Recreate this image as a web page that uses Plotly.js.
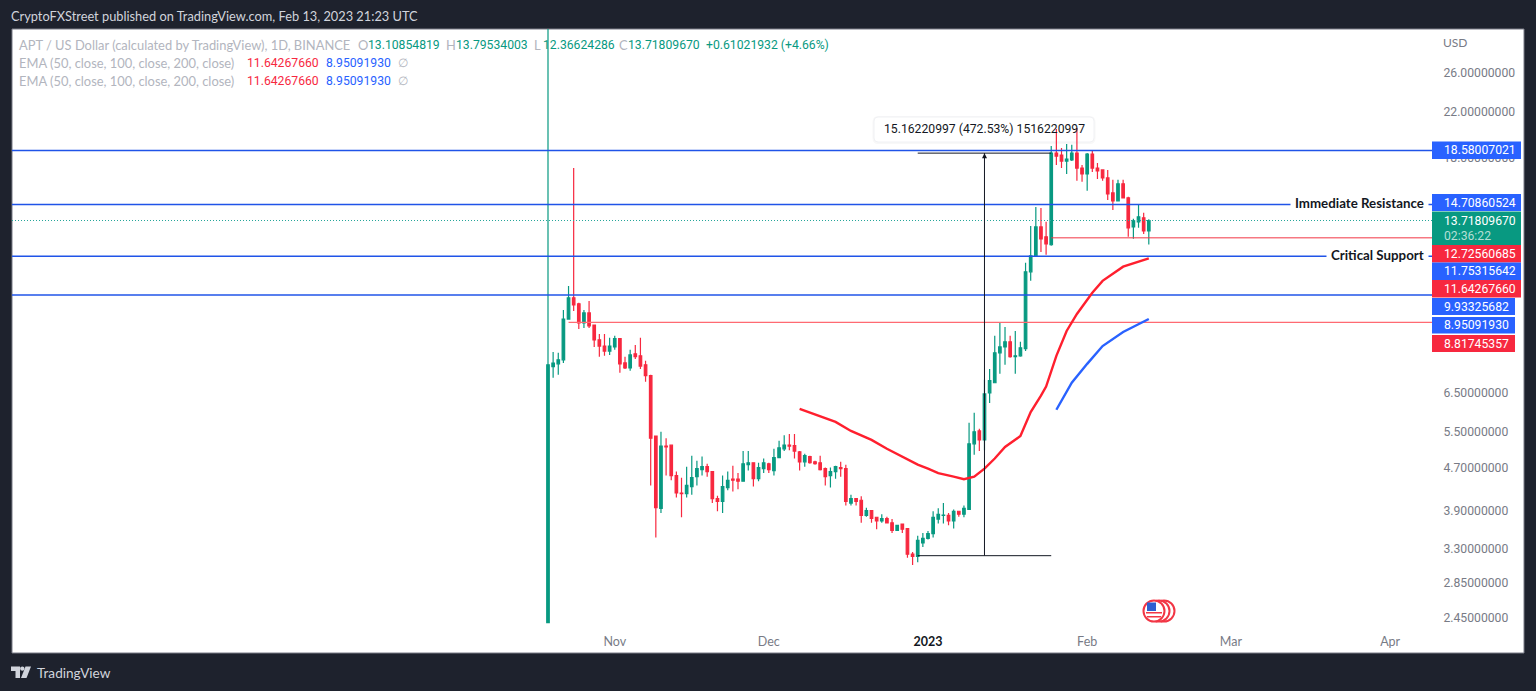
<!DOCTYPE html>
<html><head><meta charset="utf-8">
<script src="https://cdn.plot.ly/plotly-3.0.1.min.js"></script>
<style>html,body{margin:0;padding:0;background:#1e222d;overflow:hidden}#chart{width:1536px;height:691px}</style>
</head><body><div id="chart"></div>
<script>
const firstDay = '2022-10-19';
const opens = [
2.40,7.28,7.37,7.50,8.95,9.81,9.56,8.80,9.19,8.72,
8.18,7.96,7.79,7.93,8.22,7.40,7.24,7.70,7.63,7.34,
7.00,5.39,3.94,5.16,5.18,4.54,4.21,4.20,4.33,4.52,
4.66,4.72,4.62,4.11,4.06,4.31,4.47,4.47,4.43,4.76,
4.80,4.48,4.68,4.78,4.64,4.91,5.10,5.18,5.17,5.03,
4.82,4.93,4.82,4.80,4.68,4.54,4.62,4.70,4.68,4.03,
4.11,4.08,3.82,3.90,3.79,3.73,3.77,3.70,3.58,3.68,
3.61,3.23,3.20,3.39,3.46,3.53,3.76,3.82,3.82,3.73,
3.89,3.84,3.92,5.21,5.51,5.30,6.50,6.79,7.73,7.93,
8.11,7.60,7.63,7.87,10.98,11.77,13.34,12.78,12.35,18.38,
18.22,17.75,17.83,18.38,17.22,16.78,18.30,17.22,17.08,16.50,
15.46,14.94,16.08,15.13,13.34,13.64,13.88,13.10854819];
const highs = [
60,7.76,7.73,9.31,10.33,17.22,9.60,9.31,9.68,8.72,
8.39,8.39,8.25,8.32,8.22,7.60,7.83,8.00,8.25,7.47,
7.03,5.39,5.49,5.34,5.18,4.62,4.50,4.72,4.95,4.84,
4.93,4.78,4.62,4.16,4.54,4.62,4.74,4.59,5.05,5.05,
4.80,4.80,4.89,4.80,5.10,5.28,5.41,5.44,5.44,5.05,
4.99,4.95,4.84,4.95,4.70,4.70,4.74,4.82,4.76,4.18,
4.11,4.15,3.95,3.90,3.80,3.84,3.80,3.76,3.67,3.69,
3.61,3.26,3.50,3.54,3.57,3.89,3.94,4.03,3.86,3.92,
3.90,3.99,5.71,5.96,5.56,6.88,7.21,8.32,8.84,8.65,
8.32,8.50,8.11,11.42,13.40,14.55,14.49,13.64,18.95,20.40,
18.79,19.12,19.04,20.49,17.45,18.38,18.55,17.60,17.08,17.08,
16.36,16.36,16.36,15.20,13.82,14.74,14.18,13.79534003];
const lows = [
2.40,6.94,7.03,7.40,8.92,9.27,8.57,8.61,8.61,7.93,
7.60,7.63,7.66,7.83,7.09,7.21,7.15,7.53,7.21,6.82,
4.35,3.47,3.86,4.54,4.45,4.13,3.79,4.13,4.18,4.35,
4.54,4.52,4.03,3.89,3.86,4.26,4.24,4.28,4.43,4.64,
4.33,4.43,4.59,4.59,4.54,4.91,5.05,5.07,4.89,4.64,
4.72,4.78,4.76,4.64,4.35,4.31,4.48,4.52,3.99,3.99,
3.99,3.70,3.80,3.70,3.60,3.70,3.69,3.54,3.57,3.54,
3.18,3.08,3.12,3.33,3.44,3.47,3.69,3.69,3.66,3.61,
3.80,3.79,3.92,4.97,5.05,5.07,6.22,6.79,7.06,7.34,
7.57,7.06,7.60,7.79,10.56,11.77,11.97,11.82,12.30,17.45,
17.22,16.78,17.75,16.29,16.22,15.60,16.93,16.43,16.29,15.00,
14.36,14.94,15.13,12.78,12.67,13.29,12.94,12.36624286];
const closes = [
7.34,7.39,7.50,8.95,9.81,9.52,8.80,9.19,8.69,8.18,
7.96,7.79,7.96,8.22,7.37,7.24,7.66,7.60,7.30,7.00,
5.34,3.95,5.16,5.14,4.54,4.21,4.20,4.35,4.50,4.68,
4.72,4.62,4.11,4.06,4.33,4.45,4.45,4.43,4.78,4.80,
4.48,4.70,4.80,4.66,4.91,5.12,5.18,5.16,5.05,4.82,
4.95,4.80,4.78,4.66,4.52,4.62,4.72,4.68,4.06,4.11,
4.06,3.82,3.90,3.77,3.73,3.77,3.70,3.58,3.66,3.60,
3.23,3.20,3.43,3.46,3.53,3.79,3.84,3.825,3.73,3.89,
3.84,3.94,5.21,5.49,5.30,6.47,6.85,7.73,7.93,8.11,
7.60,7.63,7.90,10.98,11.77,13.34,12.67,12.40,18.38,18.14,
17.75,17.91,18.38,17.22,16.78,18.30,17.22,17.00,16.50,15.40,
14.94,16.08,15.13,13.29,13.70,13.94,13.11,13.7180967];

const emaFastDays = [49,52,54,56,59,63,66,69,72,74,76,79,81,83,85,87,89,92,94,96,97,99,101,103,105,106,108,112,117];
const emaFast = [6.06,5.91,5.81,5.73,5.51,5.30,5.10,4.93,4.76,4.68,4.59,4.52,4.47,4.52,4.68,4.89,5.14,5.39,5.98,6.42,6.68,7.63,8.50,9.15,9.73,10.03,10.56,11.23,11.64267660];
const emaSlowDays = [99,102,105,108,112,117];
const emaSlow = [6.04,6.79,7.37,7.96,8.46,8.95091930];

const blueLevels = [18.58007021,14.70860524,11.75315642,9.93325682];
const redLevelLow = 8.81745357, redLevelLowDay = 4;
const redLevelHigh = 12.72560685, redLevelHighDay = 98;
const lastPrice = 13.71809670;
const measureLow = 3.2087, measureHigh = 18.3709;
const measureDays = [72,85,98];

const yTicks = [26,22,18,6.5,5.5,4.7,3.9,3.3,2.85,2.45];
const yTickLabels = ['26.00000000','22.00000000','18.00000000','6.50000000','5.50000000','4.70000000','3.90000000','3.30000000','2.85000000','2.45000000'];
const xTicks = ['2022-11-01','2022-12-01','2023-01-01','2023-02-01','2023-03-01','2023-04-01'];
const xTickLabels = ['Nov','Dec','<span style="color:#131722"><b>2023</b></span>','Feb','Mar','Apr'];

const FONT = 'Lato, "Noto Sans", sans-serif';
const NUMFONT = 'Roboto, Lato, sans-serif';
const GREEN='#089981', RED='#f7283f', BLUE='#2962ff', LEVEL='#2054e8', GREY='#b2b5be';
const TXT=12.9, NUM=12.2;
const L=12, R=1432, T=29, B=626;
const px = x => (x-L)/(R-L), py = y => (B-y)/(B-T);

const dates = opens.map((_,i)=>{const d=new Date(firstDay+'T00:00:00Z');d.setUTCDate(d.getUTCDate()+i);return d.toISOString().slice(0,10);});
const xRange = ['2022-07-06 14:53','2023-04-09 03:36'];

const hline = (x0,y,color,width,dash) => ({type:'scatter',mode:'lines',x:[x0,xRange[1]],y:[y,y],line:{color,width,dash:dash||'solid'},hoverinfo:'skip',showlegend:false});
const traces = [
  {type:'candlestick',x:dates,open:opens,high:highs,low:lows,close:closes,whiskerwidth:0,
   increasing:{line:{color:GREEN,width:1.2},fillcolor:GREEN},decreasing:{line:{color:RED,width:1.2},fillcolor:RED},hoverinfo:'skip',showlegend:false},
  ...blueLevels.map(v=>hline(xRange[0],v,LEVEL,1.5)),
  hline(xRange[0],lastPrice,'#26a69a',1,'1px,2px'),
  hline(dates[redLevelLowDay],redLevelLow,'#ff6a72',1.2),
  hline(dates[redLevelHighDay],redLevelHigh,'#f23645',1),
  {type:'scatter',mode:'lines',x:emaFastDays.map(i=>dates[i]),y:emaFast,line:{color:'#ff1f2e',width:2.4},hoverinfo:'skip',showlegend:false},
  {type:'scatter',mode:'lines',x:emaSlowDays.map(i=>dates[i]),y:emaSlow,line:{color:BLUE,width:2.4},hoverinfo:'skip',showlegend:false},
  {type:'scatter',mode:'lines',x:[dates[measureDays[0]],dates[measureDays[2]]],y:[measureLow,measureLow],line:{color:'#131722',width:1},hoverinfo:'skip',showlegend:false},
  {type:'scatter',mode:'lines',x:[dates[measureDays[0]],dates[measureDays[2]]],y:[measureHigh,measureHigh],line:{color:'#131722',width:1},hoverinfo:'skip',showlegend:false},
  {type:'scatter',mode:'lines',x:[dates[measureDays[1]],dates[measureDays[1]]],y:[measureLow,measureHigh],line:{color:'#131722',width:1},hoverinfo:'skip',showlegend:false}
];

const label = (text,x,y,color,size,extra) => Object.assign({
  text,xref:'paper',yref:'paper',x:px(x),y:py(y),xanchor:'left',yanchor:'middle',showarrow:false,borderpad:0,
  font:{family:FONT,size:size||TXT,color}},extra||{});
const num = (text,x,y,color,extra) => label(text,x,y,color,NUM,Object.assign({font:{family:NUMFONT,size:NUM,color}},extra||{}));
const boldFont = {family:FONT,size:13.3,color:'#131722',weight:700};
const annotations = [
  label('CryptoFXStreet published on TradingView.com, Feb 13, 2023 21:23 UTC',10,16,'#d1d4dc',12.8),
  label('APT / US Dollar (calculated by TradingView), 1D, BINANCE',18,45,GREY),
  label('O',357,45,GREY),num('13.10854819',367,45,GREEN),
  label('H',445,45,GREY),num('13.79534003',455,45,GREEN),
  label('L',533,45,GREY),num('12.36624286',541.5,45,GREEN),
  label('C',617.5,45,GREY),num('13.71809670',627,45,GREEN),
  num('+0.61021932 (+4.66%)',705,45,GREEN),
  label('EMA (50, close, 100, close, 200, close)',18,63,GREY),
  num('11.64267660',246,63,RED),num('8.95091930',325,63,BLUE),label('∅',397,63,GREY,NUM),
  label('EMA (50, close, 100, close, 200, close)',18,81,GREY),
  num('11.64267660',246,81,RED),num('8.95091930',325,81,BLUE),label('∅',397,81,GREY,NUM),
  label('USD',1442,43,'#787b86',12),
  label('TradingView',35.5,673,'#d1d4dc',13.6),
  label('Immediate Resistance',1290,203,'#131722',13.3,{bgcolor:'#ffffff',borderpad:4,font:boldFont}),
  label('Critical Support',1326,255,'#131722',13.3,{bgcolor:'#ffffff',borderpad:4,font:boldFont}),
  num('15.16220997 (472.53%) 1516220997',984,129,'#131722',{xanchor:'center'}),
  {x:dates[measureDays[1]],y:Math.log10(measureHigh),xref:'x',yref:'y',axref:'pixel',ayref:'pixel',ax:0,ay:12,text:' ',showarrow:true,arrowhead:2,arrowsize:1,arrowwidth:1,arrowcolor:'#131722'}
];
const tags = [
  ['18.58007021',BLUE,141.5,159,1521],['14.70860524',BLUE,194,211,1521],
  ['12.72560685',RED,245,262.5,1521],['11.75315642',BLUE,262.5,280,1521],['11.64267660',RED,280,297.5,1521],
  ['9.93325682',BLUE,298,315,1515],['8.95091930',BLUE,317,333.5,1515],['8.81745357',RED,335,352,1515]
];
const rect = (x0,y0,x1,y1,fill,extra) => Object.assign({type:'rect',xref:'paper',yref:'paper',x0:px(x0),x1:px(x1),y0:py(y0),y1:py(y1),fillcolor:fill,line:{width:0},layer:'above'},extra||{});
const circle = (cx,cy,r,fill,lc) => ({type:'circle',xref:'paper',yref:'paper',x0:px(cx-r),x1:px(cx+r),y0:py(cy-r),y1:py(cy+r),fillcolor:fill,line:{color:lc,width:2},layer:'above'});
const poly = (pts,fill,lc) => ({type:'path',xref:'paper',yref:'paper',path:pts.map((p,i)=>(i?'L':'M')+px(p[0])+','+py(p[1])).join(' ')+' Z',fillcolor:fill,line:{width:lc?1:0,color:lc||fill},layer:'above'});
const round = (x0,y0,x1,y1,r,fill,lc,layer) => ({type:'path',xref:'paper',yref:'paper',
  path:`M${px(x0+r)},${py(y0)} L${px(x1-r)},${py(y0)} Q${px(x1)},${py(y0)} ${px(x1)},${py(y0+r)} L${px(x1)},${py(y1-r)} Q${px(x1)},${py(y1)} ${px(x1-r)},${py(y1)} L${px(x0+r)},${py(y1)} Q${px(x0)},${py(y1)} ${px(x0)},${py(y1-r)} L${px(x0)},${py(y0+r)} Q${px(x0)},${py(y0)} ${px(x0+r)},${py(y0)} Z`,
  fillcolor:fill,line:{width:lc?1:0,color:lc||fill},layer:layer||'above'});
const shapes = [
  Object.assign(rect(12,29,1524,653,'#ffffff',{line:{color:'#787b86',width:1}}),{layer:'below'}),
  round(872.5,116,1095.5,144,6,'rgba(19,23,34,0.03)',null,'below'),
  round(874,117,1094,142,4,'#ffffff','#f0f1f4','below'),
  ...tags.map(t=>rect(1432,t[2],t[4],t[3],t[1])),
  rect(1432,211.5,1521,245,GREEN),
  circle(1164,611,10.5,'#ffffff','#f23645'),circle(1159,611,10.5,'#ffffff','#f23645'),circle(1154,611,10.5,'#ffffff','#f23645'),
  rect(1147,602.5,1156,611,'#2f5fd0'),rect(1146,612,1162,613.5,'#f23645'),rect(1147,616,1161,617.5,'#f23645'),
  poly([[11,666.5],[20,666.5],[20,678],[15.5,678],[15.5,671],[11,671]],'#d1d4dc'),
  circle(22.3,668.6,1.2,'#d1d4dc','#d1d4dc'),
  poly([[25.5,666.5],[31,666.5],[26.5,678],[21,678]],'#d1d4dc')
];
tags.forEach(t=>annotations.push(num(t[0],1442.5,(t[2]+t[3])/2,'#ffffff')));
annotations.push(num('13.71809670',1442.5,221,'#ffffff'));
annotations.push(num('02:36:22',1442.5,236,'#b5dfd6'));

const layout = {
  width:1536,height:691,paper_bgcolor:'#1e222d',plot_bgcolor:'rgba(0,0,0,0)',showlegend:false,
  margin:{l:L,r:1536-R,t:T,b:691-B,pad:0},
  font:{family:FONT},
  xaxis:{type:'date',range:xRange,rangeslider:{visible:false},tickmode:'array',tickvals:xTicks,ticktext:xTickLabels,
    showgrid:false,zeroline:false,showline:false,ticks:'outside',ticklen:4,tickcolor:'rgba(0,0,0,0)',tickfont:{family:FONT,size:12.5,color:'#787b86'}},
  yaxis:{type:'log',side:'right',range:[0.37395,1.49780],tickmode:'array',tickvals:yTicks,ticktext:yTickLabels,
    showgrid:false,zeroline:false,showline:false,ticks:'outside',ticklen:8,tickcolor:'rgba(0,0,0,0)',tickfont:{family:NUMFONT,size:12.2,color:'#787b86'}},
  annotations,shapes
};
Plotly.newPlot('chart',traces,layout,{staticPlot:true,displayModeBar:false});
</script></body></html>
